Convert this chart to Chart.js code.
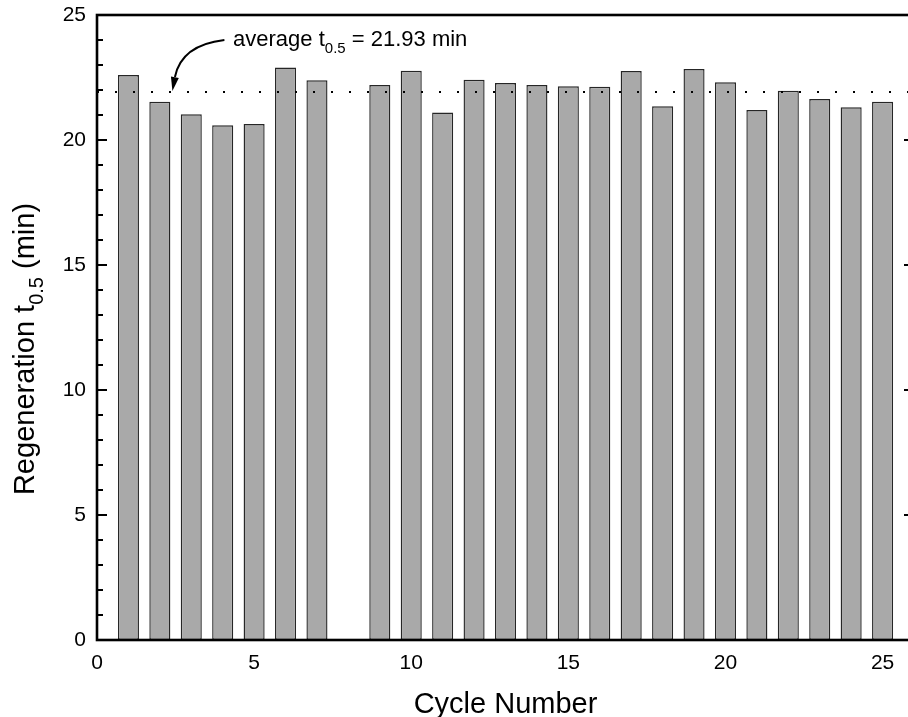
<!DOCTYPE html>
<html>
<head>
<meta charset="utf-8">
<script src="https://cdn.jsdelivr.net/npm/chart.js@4.4.1/dist/chart.umd.min.js"></script>
<style>
  html, body { margin: 0; padding: 0; overflow: hidden; background: #fff; }
  canvas { display: block; }
</style>
</head>
<body>
<canvas id="chart" width="920" height="717"></canvas>
<script>
// Regeneration half-time per cycle (cycle 8 was not measured)
const cycles = [1, 2, 3, 4, 5, 6, 7, 9, 10, 11, 12, 13, 14, 15, 16, 17, 18, 19, 20, 21, 22, 23, 24, 25];
const t05 = [22.60, 21.53, 21.03, 20.59, 20.64, 22.90, 22.39,
             22.20, 22.77, 21.10, 22.41, 22.28, 22.20, 22.15, 22.13,
             22.76, 21.35, 22.84, 22.31, 21.20, 21.97, 21.64, 21.31, 21.53];
const averageT05 = 21.93;
const xTicks = [0, 5, 10, 15, 20, 25];
const yTicks = [0, 5, 10, 15, 20, 25];

const FONT = '"Liberation Sans", Arial, Helvetica, sans-serif';

// text runs with optional subscript pieces
function runWidth(ctx, parts, size) {
  let w = 0;
  for (const p of parts) {
    ctx.font = (p.sub ? Math.round(size * 0.7) : size) + 'px ' + FONT;
    w += ctx.measureText(p.text).width;
  }
  return w;
}
function drawRun(ctx, parts, x, y, size) {
  let cx = x;
  ctx.textAlign = 'left';
  ctx.textBaseline = 'alphabetic';
  for (const p of parts) {
    ctx.font = (p.sub ? Math.round(size * 0.7) : size) + 'px ' + FONT;
    ctx.fillText(p.text, cx, p.sub ? y + size * 0.3 : y);
    cx += ctx.measureText(p.text).width;
  }
}

const framePlugin = {
  id: 'frame',
  afterDatasetsDraw(chart) {
    const { ctx, chartArea: a, scales: { x, y } } = chart;
    ctx.save();
    ctx.strokeStyle = '#000';
    ctx.fillStyle = '#000';

    // dotted line at the average
    const ya = Math.round(y.getPixelForValue(averageT05));
    ctx.lineWidth = 2;
    ctx.lineCap = 'butt';
    ctx.setLineDash([2, 16]);
    ctx.beginPath();
    ctx.moveTo(a.left, ya);
    ctx.lineTo(a.right, ya);
    ctx.stroke();
    ctx.setLineDash([]);

    // axis frame
    ctx.lineWidth = 2.6;
    ctx.strokeRect(a.left, a.top, a.right - a.left, a.bottom - a.top);

    // inward ticks: majors and minors on the left, majors on the right
    ctx.lineWidth = 2;
    for (let v = 0; v <= 25; v++) {
      const py = y.getPixelForValue(v);
      const major = yTicks.includes(v);
      ctx.beginPath();
      ctx.moveTo(a.left, py);
      ctx.lineTo(a.left + (major ? 10 : 6), py);
      if (major) {
        ctx.moveTo(a.right, py);
        ctx.lineTo(a.right - 10, py);
      }
      ctx.stroke();
    }

    // annotation with curved arrow pointing at the average line
    const tipX = x.getPixelForValue(2.4);
    const tipY = ya - 1;
    const startX = tipX + 52, startY = tipY - 51;
    const endX = tipX + 2.5, endY = tipY - 14;
    ctx.lineWidth = 2;
    ctx.beginPath();
    ctx.moveTo(startX, startY);
    ctx.quadraticCurveTo(tipX + 9, tipY - 46, endX, endY);
    ctx.stroke();
    const ang = Math.atan2(tipY - endY, tipX - endX);
    const len = 14, half = 4;
    const bx = tipX - len * Math.cos(ang), by = tipY - len * Math.sin(ang);
    ctx.beginPath();
    ctx.moveTo(tipX, tipY);
    ctx.lineTo(bx + half * Math.sin(ang), by - half * Math.cos(ang));
    ctx.lineTo(bx - half * Math.sin(ang), by + half * Math.cos(ang));
    ctx.closePath();
    ctx.fill();

    drawRun(ctx, [
      { text: 'average t' },
      { text: '0.5', sub: true },
      { text: ' = ' + averageT05.toFixed(2) + ' min' }
    ], x.getPixelForValue(4.33), y.getPixelForValue(23.75), 22);

    // axis titles
    ctx.font = '29px ' + FONT;
    ctx.textAlign = 'center';
    ctx.textBaseline = 'alphabetic';
    ctx.fillText('Cycle Number', (a.left + a.right) / 2, 713);

    const yParts = [
      { text: 'Regeneration t' },
      { text: '0.5', sub: true },
      { text: ' (min)' }
    ];
    const w = runWidth(ctx, yParts, 29);
    ctx.translate(34, 349);
    ctx.rotate(-Math.PI / 2);
    drawRun(ctx, yParts, -w / 2, 0, 29);
    ctx.restore();
  }
};

new Chart(document.getElementById('chart'), {
  type: 'bar',
  data: {
    datasets: [{
      data: cycles.map((c, i) => ({ x: c, y: t05[i] })),
      backgroundColor: '#a9a9a9',
      borderColor: '#262626',
      borderWidth: 1.4,
      borderSkipped: false,
      categoryPercentage: 1,
      barPercentage: 0.67
    }]
  },
  options: {
    responsive: false,
    animation: false,
    devicePixelRatio: 1,
    layout: { padding: { top: 15, right: 6, left: 0, bottom: 0 } },
    plugins: { legend: { display: false }, tooltip: { enabled: false } },
    scales: {
      x: {
        type: 'linear',
        min: 0,
        max: 26,
        offset: false,
        grid: { display: false, drawTicks: false, offset: false },
        border: { display: false },
        afterBuildTicks: s => { s.ticks = xTicks.map(v => ({ value: v })); },
        afterFit: s => { s.height = 77; s.paddingLeft = 0; s.paddingRight = 0; },
        ticks: { color: '#000', font: { family: FONT, size: 21 }, padding: 11, maxRotation: 0 }
      },
      y: {
        min: 0,
        max: 25,
        grid: { display: false, drawTicks: false },
        border: { display: false },
        afterBuildTicks: s => { s.ticks = yTicks.map(v => ({ value: v })); },
        afterFit: s => { s.width = 97; s.paddingTop = 0; s.paddingBottom = 0; },
        ticks: { color: '#000', font: { family: FONT, size: 21 }, padding: 11 }
      }
    }
  },
  plugins: [framePlugin]
});
</script>
</body>
</html>
